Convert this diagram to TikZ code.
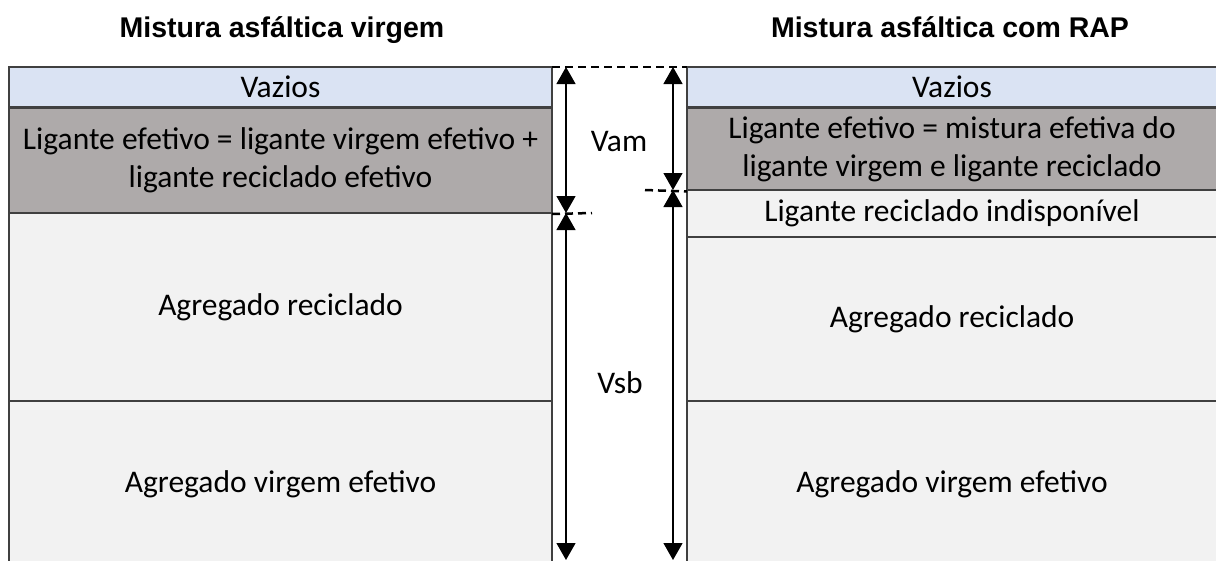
\documentclass[tikz,border=0pt]{standalone}
\usepackage{fontspec}
\setmainfont{Carlito}
\newfontfamily\titlefont{Liberation Sans}
\usetikzlibrary{arrows.meta}
\definecolor{vazios}{HTML}{DAE3F3}
\definecolor{ligante}{HTML}{AEAAAA}
\definecolor{agregado}{HTML}{F2F2F2}
\definecolor{borda}{HTML}{404040}
\begin{document}
\begin{tikzpicture}[x=1pt,y=-1pt,
	camada/.style={draw=borda, line width=1.5pt, outer sep=0pt, inner sep=0pt, align=center, font=\fontsize{31.5}{39.5}\selectfont},
	cotas/.style={line width=1.3pt, {Triangle[width=19pt,length=17pt]}-{Triangle[width=19pt,length=17pt]}},
	guia/.style={line width=2.5pt, dash pattern=on 8pt off 5pt},
	rotulo/.style={font=\fontsize{31.5}{39.5}\selectfont},
	titulo/.style={anchor=base, font=\titlefont\bfseries\fontsize{28.5}{33}\selectfont}]
	\clip (0,0) rectangle (1216,560);
	\fill[white] (0,0) rectangle (1216,560);
	% mistura virgem
	\node[camada, fill=vazios, minimum width=543pt, minimum height=40pt] (lvaz) at (280.5,87) {Vazios};
	\node[camada, fill=ligante, minimum width=543pt, minimum height=106pt] (llig) at (280.5,161) {\raisebox{-3pt}{\begin{tabular}{@{}c@{}}Ligante efetivo = ligante virgem efetivo +\\[-1.5pt]ligante reciclado efetivo\end{tabular}}};
	\node[camada, fill=agregado, minimum width=543pt, minimum height=188pt] (lrec) at (280.5,307) {Agregado reciclado};
	\node[camada, fill=agregado, minimum width=543pt, minimum height=166pt] (lvir) at (280.5,484) {Agregado virgem efetivo};
	% mistura com RAP
	\node[camada, fill=vazios, minimum width=530pt, minimum height=40pt] (rvaz) at (952,87) {Vazios};
	\node[camada, fill=ligante, minimum width=530pt, minimum height=83pt] (rlig) at (952,150) {\raisebox{-3pt}{\begin{tabular}{@{}c@{}}Ligante efetivo = mistura efetiva do\\[-1.5pt]ligante virgem e ligante reciclado\end{tabular}}};
	\node[camada, fill=agregado, minimum width=530pt, minimum height=47pt] (rind) at (952,213.5) {Ligante reciclado indispon\'ivel};
	\node[camada, fill=agregado, minimum width=530pt, minimum height=164pt] (rrec) at (952,319) {Agregado reciclado};
	\node[camada, fill=agregado, minimum width=530pt, minimum height=166pt] (rvir) at (952,484) {Agregado virgem efetivo};
	% titulos
	\node[titulo] (tvirgem) at (282,37) {Mistura asf\'altica virgem};
	\node[titulo] (trap) at (950,37) {Mistura asf\'altica com RAP};
	% cotas
	\coordinate (ta) at (566,67);
	\coordinate (ma) at (566,213);
	\coordinate (ba) at (566,560);
	\coordinate (tb) at (673,67);
	\coordinate (mb) at (673,190);
	\coordinate (bb) at (673,560);
	\coordinate (fa) at (592,213);
	\coordinate (fb) at (645,190);
	\draw[guia] (lvaz.north east) -- (rvaz.north west);
	\draw[guia] (llig.south east) -- (fa);
	\draw[guia] (fb) -- (rlig.south west);
	\draw[cotas] (ta) -- (ma);
	\draw[cotas] (ma) -- (ba);
	\draw[cotas] (tb) -- (mb);
	\draw[cotas] (mb) -- (bb);
	\node[rotulo] (vam) at (619,142) {Vam};
	\node[rotulo] (vsb) at (620,383) {Vsb};
\end{tikzpicture}
\end{document}
